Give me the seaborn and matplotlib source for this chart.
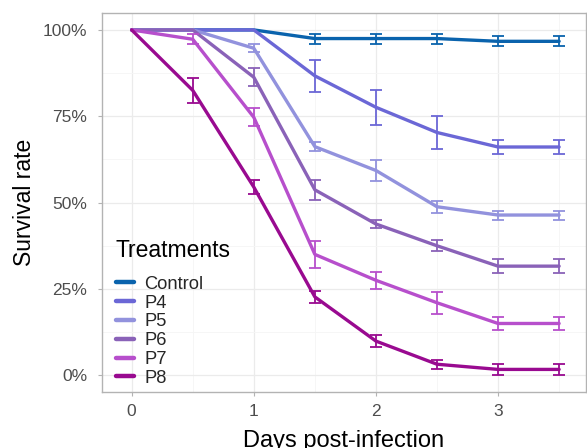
import numpy as np
import pandas as pd
import seaborn as sns
import matplotlib.pyplot as plt
from matplotlib.ticker import FuncFormatter, MultipleLocator
from matplotlib.lines import Line2D

days = [0, 0.5, 1, 1.5, 2, 2.5, 3, 3.5]
treatments = ["Control", "P4", "P5", "P6", "P7", "P8"]

control = [100, 100, 100, 97.5, 97.5, 97.5, 96.7, 96.7]
control_sd = [0, 0, 0, 1.45, 1.45, 1.45, 1.45, 1.45]
p4 = [100, 100, 100, 86.7, 77.6, 70.3, 66.1, 66.1]
p4_sd = [0, 0, 0, 4.7, 5.0, 4.9, 2.1, 2.1]
p5 = [100, 100, 94.7, 66.2, 59.3, 48.8, 46.4, 46.4]
p5_sd = [0, 0, 1.2, 1.3, 2.9, 1.7, 1.3, 1.3]
p6 = [100, 100, 86.3, 53.7, 43.8, 37.5, 31.6, 31.6]
p6_sd = [0, 0, 2.6, 2.9, 1.2, 1.6, 2.0, 2.0]
p7 = [100, 97.3, 74.7, 35.0, 27.5, 21.0, 15.0, 15.0]
p7_sd = [0, 1.4, 2.65, 4.0, 2.5, 3.2, 2.0, 2.0]
p8 = [100, 82.5, 54.5, 22.7, 9.9, 3.2, 1.7, 1.7]
p8_sd = [0, 3.7, 2.0, 1.7, 1.7, 1.3, 1.5, 1.5]

colors = ["#0a63ad", "#6b67d6", "#9292dd", "#8a62b8", "#b74fcc", "#990a90"]

means = [control, p4, p5, p6, p7, p8]
sds = [control_sd, p4_sd, p5_sd, p6_sd, p7_sd, p8_sd]

rows = []
for t, m, s in zip(treatments, means, sds):
    for d, v, e in zip(days, m, s):
        rows.append({"day": d, "survival": v, "sd": e, "treatment": t})
df = pd.DataFrame(rows)

sns.set_theme(style="white")
plt.rcParams['font.family'] = ['Liberation Sans', 'DejaVu Sans']

fig = plt.figure(figsize=(5.87, 4.48), dpi=100)
W, H = 587, 448
ax = fig.add_axes([102 / W, 1 - 392 / H, (586 - 102) / W, (392 - 13) / H])

palette = dict(zip(treatments, colors))
sns.lineplot(data=df, x="day", y="survival", hue="treatment", hue_order=treatments,
             palette=palette, linewidth=2.4, errorbar=None, ax=ax, legend=False,
             zorder=3)

for t in treatments:
    sub = df[(df.treatment == t) & (df.sd > 0)]
    ax.errorbar(sub.day, sub.survival, yerr=sub.sd, fmt="none", ecolor=palette[t],
                elinewidth=1.3, capsize=4.2, capthick=1.3, zorder=4)

ax.set_xlim(-0.243, 3.72)
ax.set_ylim(-4.84, 104.9)
ax.xaxis.set_major_locator(MultipleLocator(1))
ax.xaxis.set_minor_locator(MultipleLocator(0.5))
ax.yaxis.set_major_locator(MultipleLocator(25))
ax.yaxis.set_minor_locator(MultipleLocator(12.5))
ax.yaxis.set_major_formatter(FuncFormatter(lambda v, p: f"{int(v)}%"))
ax.xaxis.set_major_formatter(FuncFormatter(lambda v, p: f"{int(v)}"))

ax.grid(which="major", color="#ebebeb", linewidth=0.9, zorder=0)
ax.grid(which="minor", color="#f5f5f5", linewidth=0.6, zorder=0)
ax.set_axisbelow(True)
for sp in ax.spines.values():
    sp.set_color("#b3b3b3")
    sp.set_linewidth(1.0)

ax.tick_params(axis="both", which="major", length=3, width=0.8, color="#b3b3b3",
               labelsize=12.5, labelcolor="#4d4d4d", bottom=True, left=True)
ax.tick_params(axis="x", which="major", pad=5.5)
ax.tick_params(axis="y", which="major", pad=7.5)
ax.tick_params(which="minor", length=0)

ax.set_xlabel("Days post-infection", fontsize=17, color="black", labelpad=8)
ax.set_ylabel("Survival rate", fontsize=16.5, color="black", labelpad=5)

fig.text(115 / W, 1 - 257 / H, "Treatments", fontsize=16.5, color="black",
         ha="left", va="baseline")

handles = [Line2D([0], [0], color=c, lw=3.2) for c in colors]
leg = fig.legend(handles, treatments, loc="lower left",
                 bbox_to_anchor=(107 / W, (448 - 396) / H), frameon=False,
                 fontsize=13.2, handlelength=0.95,
                 handletextpad=0.6, labelspacing=0.1, borderpad=0.0)

fig.savefig("out.png", dpi=100)
